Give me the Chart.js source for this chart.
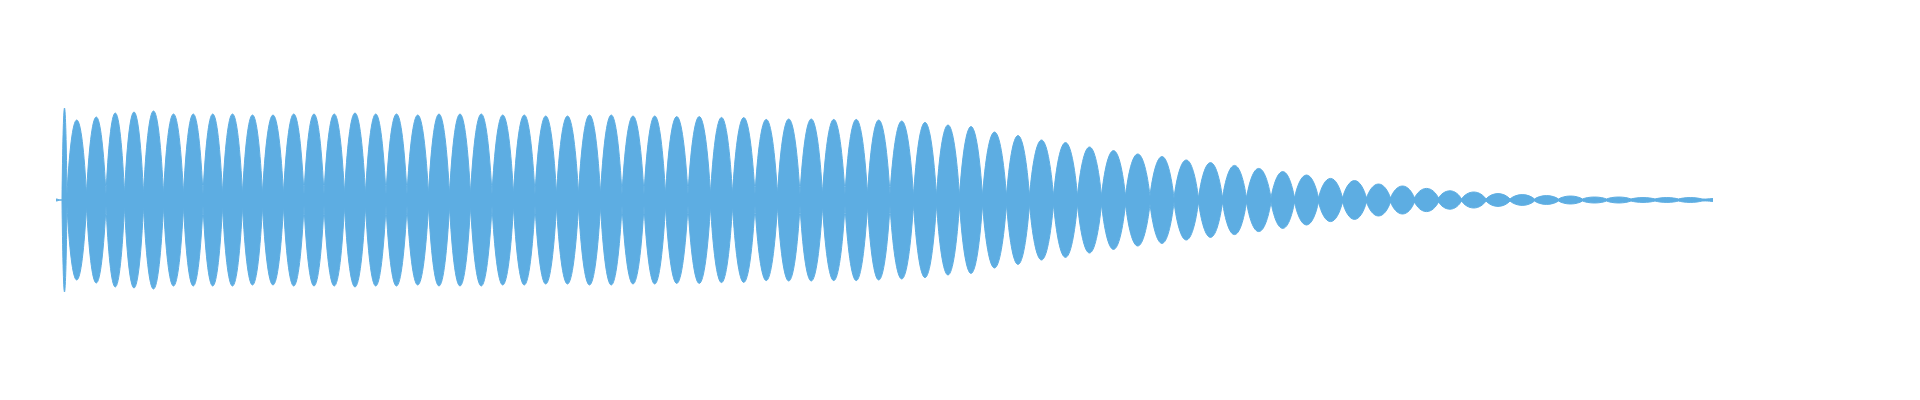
<!DOCTYPE html>
<html>
<head>
<meta charset="utf-8">
<script src="https://cdn.jsdelivr.net/npm/chart.js@4/dist/chart.umd.min.js"></script>
<style>
  html, body { margin: 0; padding: 0; background: #fff; }
  #wrap { width: 1920px; height: 400px; position: relative; }
</style>
</head>
<body>
<div id="wrap"><canvas id="wave"></canvas></div>
<script>
// time (ms) of each pinch point between lobes of the waveform envelope
const nodeTimes = [10, 20, 59, 98, 135, 173, 213, 253, 292, 331, 371, 411, 453, 494, 534,
  575, 617, 658, 700, 743, 785, 827, 870, 913, 956, 999, 1043, 1087, 1130, 1174, 1217,
  1262, 1307, 1351, 1396, 1441, 1486, 1531, 1576, 1621, 1666, 1713, 1759, 1805, 1851,
  1899, 1945, 1993, 2041, 2089, 2137, 2186, 2234, 2283, 2331, 2379, 2428, 2475, 2523,
  2571, 2619, 2667, 2715, 2763, 2809, 2858, 2906, 2955, 3003, 3051, 3099, 3148, 3196,
  3243, 3290];

// amplitude left at each pinch point
const nodeLevels = [0.005, 0.03, 0.03, 0.03, 0.03, 0.03, 0.03, 0.03, 0.03, 0.03, 0.03,
  0.03, 0.03, 0.03, 0.03, 0.03, 0.03, 0.03, 0.03, 0.03, 0.03, 0.03, 0.03, 0.03, 0.03,
  0.03, 0.03, 0.03, 0.03, 0.03, 0.03, 0.03, 0.03, 0.03, 0.03, 0.03, 0.03, 0.03, 0.03,
  0.03, 0.03, 0.02, 0.02, 0.02, 0.02, 0.02, 0.02, 0.02, 0.02, 0.02, 0.02, 0.02, 0.01,
  0.01, 0.01, 0.01, 0.01, 0.01, 0.01, 0.01, 0.01, 0.01, 0.01, 0.01, 0.005, 0.005, 0.005,
  0.005, 0.005, 0.005, 0.005, 0.005, 0.005, 0.005, 0.005];

// peak amplitude of each lobe
const peakLevels = [0.46, 0.40, 0.415, 0.435, 0.44, 0.445, 0.43, 0.43, 0.43, 0.43, 0.425,
  0.425, 0.43, 0.43, 0.43, 0.435, 0.43, 0.43, 0.425, 0.43, 0.43, 0.43, 0.425, 0.425,
  0.42, 0.42, 0.425, 0.425, 0.42, 0.42, 0.417, 0.417, 0.413, 0.412, 0.403, 0.405, 0.405,
  0.403, 0.403, 0.40, 0.395, 0.388, 0.375, 0.367, 0.34, 0.322, 0.30, 0.287, 0.265, 0.247,
  0.23, 0.217, 0.20, 0.187, 0.173, 0.158, 0.142, 0.125, 0.108, 0.097, 0.08, 0.07, 0.058,
  0.046, 0.04, 0.032, 0.027, 0.022, 0.02, 0.015, 0.015, 0.012, 0.012, 0.012];

const lead = { t: -2, level: 0.005 };
const tail = { t: 3312, level: 0.007 };

const color = '#5dade2';
// bezier handle lengths for the lobe outline
const HANDLE_PEAK = 0.42;   // flat top
const HANDLE_NODE_X = 0.22; // pinch: lean toward the peak
const HANDLE_NODE_Y = 0.55; // pinch: rise

function envelope(sign) {
  const pts = [{ x: lead.t, y: sign * lead.level, kind: 'lead' }];
  pts.push({ x: nodeTimes[0], y: sign * nodeLevels[0], kind: 'node' });
  for (let i = 0; i < peakLevels.length; i++) {
    const mid = (nodeTimes[i] + nodeTimes[i + 1]) / 2;
    pts.push({ x: mid, y: sign * peakLevels[i], kind: 'peak' });
    const node = { x: nodeTimes[i + 1], y: sign * nodeLevels[i + 1], kind: 'node' };
    pts.push(node);
    // repeat the pinch point so each lobe keeps a pointed end
    if (i < peakLevels.length - 1) pts.push({ ...node });
  }
  pts.push({ x: tail.t, y: sign * tail.level, kind: 'tail' });
  return pts;
}

// reshape the bezier handles so each lobe is a lens: round at the top, pointed at the pinch
const lobeShape = {
  id: 'lobeShape',
  beforeDatasetsDraw(chart) {
    chart.getSortedVisibleDatasetMetas().forEach(meta => {
      const raw = chart.data.datasets[meta.index].data;
      const pts = meta.data;
      for (let i = 1; i < pts.length - 1; i++) {
        const p = pts[i], prev = pts[i - 1], next = pts[i + 1];
        if (raw[i].kind === 'peak') {
          p.cp1x = p.x - HANDLE_PEAK * (p.x - prev.x); p.cp1y = p.y;
          p.cp2x = p.x + HANDLE_PEAK * (next.x - p.x); p.cp2y = p.y;
        } else if (raw[i].kind === 'node') {
          if (raw[i - 1].kind === 'peak') {
            p.cp1x = p.x + HANDLE_NODE_X * (prev.x - p.x);
            p.cp1y = p.y + HANDLE_NODE_Y * (prev.y - p.y);
          }
          if (raw[i + 1].kind === 'peak') {
            p.cp2x = p.x + HANDLE_NODE_X * (next.x - p.x);
            p.cp2y = p.y + HANDLE_NODE_Y * (next.y - p.y);
          }
        }
      }
    });
  }
};

new Chart(document.getElementById('wave'), {
  type: 'line',
  data: {
    datasets: [
      { data: envelope(1), fill: 'origin', backgroundColor: color, borderColor: color,
        borderWidth: 1, tension: 0.5, pointRadius: 0 },
      { data: envelope(-1), fill: 'origin', backgroundColor: color, borderColor: color,
        borderWidth: 1, tension: 0.5, pointRadius: 0 }
    ]
  },
  options: {
    responsive: true,
    maintainAspectRatio: false,
    animation: false,
    layout: { padding: 0 },
    plugins: { legend: { display: false }, tooltip: { enabled: false } },
    scales: {
      x: { type: 'linear', min: -114, max: 3726, display: false },
      y: { min: -1, max: 1, display: false }
    }
  },
  plugins: [lobeShape]
});
</script>
</body>
</html>
